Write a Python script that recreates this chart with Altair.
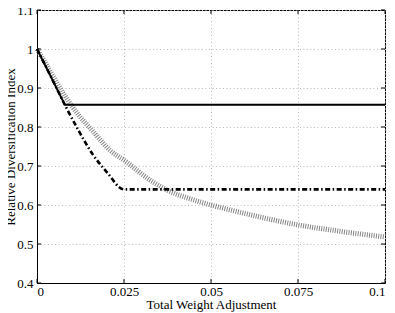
import altair as alt
import pandas as pd

x_ticks = [0, 0.025, 0.05, 0.075, 0.1]
y_ticks = [0.4, 0.5, 0.6, 0.7, 0.8, 0.9, 1.0, 1.1]

solid_x = [0, 0.008, 0.1]
solid_y = [1.0, 0.857, 0.857]

dashdot_x = [0, 0.004, 0.008, 0.012, 0.016, 0.02, 0.025, 0.1]
dashdot_y = [1.0, 0.929, 0.857, 0.79, 0.73, 0.685, 0.64, 0.64]

gray_x = [0, 0.004, 0.008, 0.012, 0.016, 0.021, 0.025, 0.0325, 0.037, 0.045, 0.05, 0.058, 0.075, 0.0875, 0.1]
gray_y = [1.0, 0.94, 0.88, 0.83, 0.79, 0.74, 0.715, 0.664, 0.64, 0.613, 0.6, 0.582, 0.549, 0.532, 0.518]

solid = pd.DataFrame({"x": solid_x, "y": solid_y})
dashdot = pd.DataFrame({"x": dashdot_x, "y": dashdot_y})
gray = pd.DataFrame({"x": gray_x, "y": gray_y})
xt = pd.DataFrame({"x": x_ticks})
yt = pd.DataFrame({"y": y_ticks})

W, H = 348, 273
FONT = "Liberation Serif"

xs = alt.Scale(domain=[0, 0.1], nice=False, zero=False)
ys = alt.Scale(domain=[0.4, 1.1], nice=False, zero=False)

xaxis = alt.Axis(values=x_ticks, title="Total Weight Adjustment",
                 grid=True, ticks=False, labelPadding=2, titlePadding=0,
                 labelExpr="datum.value == 0 ? '0' : format(datum.value, '~g')")
yaxis = alt.Axis(values=y_ticks, title="Relative Diversification Index",
                 grid=True, ticks=False, labelPadding=4,
                 titleX=-27, titleBaseline="middle", titleAngle=270,
                 labelExpr="datum.value == 1 ? '1' : format(datum.value, '.1f')")

X = alt.X("x:Q", scale=xs, axis=xaxis)
Y = alt.Y("y:Q", scale=ys, axis=yaxis)

gray_line = alt.Chart(gray).mark_line(color="#858585", strokeWidth=5, strokeDash=[1, 1.3],
                                      strokeCap="butt", interpolate="monotone").encode(
    x=X, y=Y, order="x:Q")
dd_line = alt.Chart(dashdot).mark_line(color="black", strokeWidth=2.6, strokeDash=[5, 2.5, 1.5, 2.5],
                                       interpolate="monotone").encode(
    x=X, y=Y, order="x:Q")
solid_line = alt.Chart(solid).mark_line(color="black", strokeWidth=1.8).encode(
    x=X, y=Y, order="x:Q")

# inward tick marks
xt_bottom = alt.Chart(xt).mark_rule(color="black", strokeWidth=1).encode(
    x=X, y=alt.value(H), y2=alt.value(H - 4))
xt_top = alt.Chart(xt).mark_rule(color="black", strokeWidth=1).encode(
    x=X, y=alt.value(0), y2=alt.value(4))
yt_left = alt.Chart(yt).mark_rule(color="black", strokeWidth=1).encode(
    y=Y, x=alt.value(0), x2=alt.value(4))
yt_right = alt.Chart(yt).mark_rule(color="black", strokeWidth=1).encode(
    y=Y, x=alt.value(W), x2=alt.value(W - 4))

chart = alt.layer(gray_line, dd_line, solid_line, xt_bottom, xt_top, yt_left, yt_right).properties(
    width=W, height=H,
    autosize=alt.AutoSizeParams(type="none"),
    padding={"left": 29, "top": 2, "right": 2, "bottom": 30},
).configure(background="white").configure_view(stroke="black", strokeWidth=1).configure_axis(
    labelFont=FONT, titleFont=FONT, labelFontSize=13, titleFontSize=13,
    labelColor="black", titleColor="black", titleFontWeight="normal",
    domainColor="black", gridColor="#bbbbbb", gridDash=[1, 2.5], gridWidth=1,
)

chart.save("out.html", embed_options={"renderer": "svg", "actions": False})
